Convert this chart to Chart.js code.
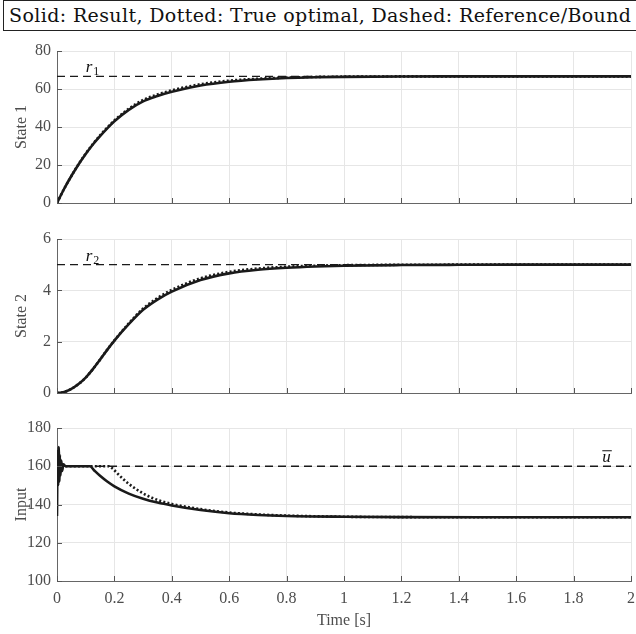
<!DOCTYPE html>
<html lang="en">
<head>
    <meta charset="UTF-8">
    <title>Result vs true optimal</title>
    <script src="https://cdn.jsdelivr.net/npm/chart.js"></script>
    <style>
        body { margin: 0; background: #fff; width: 636px; height: 634px; position: relative; overflow: hidden; }
        #legendBox {
            position: absolute; left: 3px; top: 0; width: 640px; height: 31px;
            border: 1px solid #222; box-sizing: border-box;
            font-family: "DejaVu Serif", serif; font-size: 19px; color: #111;
            line-height: 29px; padding-left: 5px; white-space: nowrap;
        }
        canvas { position: absolute; left: 0; }
    </style>
</head>
<body>
    <div id="legendBox"><span id="legendText">Solid: Result, Dotted: True optimal, Dashed: Reference/Bound</span></div>
    <canvas id="c1" width="636" height="175" style="top:40px"></canvas>
    <canvas id="c2" width="636" height="180" style="top:225px"></canvas>
    <canvas id="c3" width="636" height="219" style="top:415px"></canvas>

    <script>
        // time grid used for both states
        const tState = [0, 0.025, 0.05, 0.075, 0.1, 0.125, 0.15, 0.175, 0.2, 0.25, 0.3, 0.35, 0.4, 0.5, 0.6, 0.7, 0.8, 0.9, 1.0, 1.2, 1.4, 1.6, 1.8, 2.0];
        const state1Result  = [0, 7.5, 14.2, 20.3, 25.8, 30.8, 35.2, 39.3, 43.0, 49.0, 53.5, 56.3, 58.5, 61.8, 63.8, 65.0, 65.8, 66.2, 66.4, 66.6, 66.65, 66.67, 66.67, 66.67];
        const state1Optimal = [0, 7.5, 14.2, 20.4, 26.0, 31.0, 35.6, 39.7, 43.5, 49.6, 54.2, 57.1, 59.3, 62.5, 64.4, 65.4, 66.0, 66.35, 66.5, 66.63, 66.67, 66.67, 66.67, 66.67];
        const state2Result  = [0, 0.04, 0.16, 0.35, 0.6, 0.93, 1.3, 1.68, 2.04, 2.68, 3.24, 3.64, 3.95, 4.40, 4.66, 4.80, 4.88, 4.93, 4.96, 4.985, 4.995, 5.0, 5.0, 5.0];
        const state2Optimal = [0, 0.04, 0.16, 0.35, 0.6, 0.93, 1.3, 1.69, 2.05, 2.71, 3.29, 3.70, 4.02, 4.47, 4.72, 4.85, 4.92, 4.96, 4.98, 4.995, 5.0, 5.0, 5.0, 5.0];

        // input: result (with initial chatter) and true optimal
        const tInputResult = [0, 0.002, 0.004, 0.006, 0.008, 0.010, 0.012, 0.015, 0.018, 0.022, 0.03, 0.115, 0.13, 0.15, 0.175, 0.2, 0.25, 0.3, 0.35, 0.4, 0.5, 0.6, 0.7, 0.8, 1.0, 1.2, 1.5, 2.0];
        const inputResult  = [134, 168, 150, 170, 152, 166, 155, 163, 157.5, 161, 160, 160, 157.8, 155.0, 152.0, 149.5, 145.7, 143.0, 141.0, 139.5, 137.1, 135.4, 134.5, 134.0, 133.6, 133.4, 133.3, 133.3];
        const tInputOptimal = [0, 0.18, 0.195, 0.21, 0.23, 0.25, 0.3, 0.35, 0.4, 0.5, 0.6, 0.7, 0.8, 1.0, 1.2, 1.5, 2.0];
        const inputOptimal  = [160, 160, 158.6, 156.3, 153.4, 150.8, 145.8, 142.4, 140.3, 137.6, 135.8, 134.8, 134.2, 133.6, 133.4, 133.3, 133.3];

        // references / bound
        const r1 = 66.67, r2 = 5, uMax = 160;
        const xTicks = [0, 0.2, 0.4, 0.6, 0.8, 1, 1.2, 1.4, 1.6, 1.8, 2];

        const pts = (xs, ys) => xs.map((x, i) => ({ x: x, y: ys[i] }));
        const flat = v => [{ x: 0, y: v }, { x: 2, y: v }];

        // stretch the header text to the width used in the original
        const lt = document.getElementById('legendText');
        const extra = 622 - lt.getBoundingClientRect().width;
        lt.style.letterSpacing = (extra / (lt.textContent.length - 1)) + 'px';

        const TICK_FONT = { family: 'Liberation Serif', size: 16 };
        const TITLE_FONT = { family: 'Liberation Serif', size: 16 };
        const GRAY = '#4d4d4d';

        // matlab style ticks pointing into the axes + text annotations
        const innerTicks = {
            id: 'innerTicks',
            afterDraw(chart) {
                const { ctx, chartArea: a, scales: { x, y } } = chart;
                ctx.save();
                ctx.strokeStyle = '#555';
                ctx.lineWidth = 1;
                ctx.beginPath();
                x.ticks.forEach(t => {
                    const px = Math.round(x.getPixelForValue(t.value)) + 0.5;
                    ctx.moveTo(px, a.bottom); ctx.lineTo(px, a.bottom - 5);
                });
                y.ticks.forEach(t => {
                    const py = Math.round(y.getPixelForValue(t.value)) + 0.5;
                    ctx.moveTo(a.left, py); ctx.lineTo(a.left + 5, py);
                });
                ctx.stroke();

                const note = chart.options.plugins.innerTicks;
                if (note && note.text) {
                    const px = x.getPixelForValue(note.x);
                    const py = y.getPixelForValue(note.y) - 4;
                    ctx.fillStyle = '#111';
                    ctx.font = 'italic 17px "Liberation Serif"';
                    ctx.textBaseline = 'alphabetic';
                    ctx.fillText(note.text, px, py);
                    const w = ctx.measureText(note.text).width;
                    if (note.sub) {
                        ctx.font = '12px "Liberation Serif"';
                        ctx.fillText(note.sub, px + w + 1, py + 3);
                    }
                    if (note.bar) {
                        ctx.beginPath();
                        ctx.strokeStyle = '#111';
                        ctx.lineWidth = 1;
                        ctx.moveTo(px, py - 11.5); ctx.lineTo(px + w + 1, py - 11.5);
                        ctx.stroke();
                    }
                }
                ctx.restore();
            }
        };

        function makeChart(id, opts) {
            const datasets = [
                { data: opts.result, borderColor: '#1a1a1a', borderWidth: 2.6, cubicInterpolationMode: 'monotone' },
                { data: opts.optimal, borderColor: '#1a1a1a', borderWidth: 2.6, borderDash: [2, 2.2], cubicInterpolationMode: 'monotone' },
                { data: opts.ref, borderColor: '#1a1a1a', borderWidth: 1.4, borderDash: [8, 5] }
            ];
            return new Chart(document.getElementById(id), {
                type: 'line',
                data: { datasets: datasets },
                plugins: [innerTicks],
                options: {
                    responsive: false,
                    animation: false,
                    elements: { point: { radius: 0 } },
                    layout: { padding: { top: opts.padTop, right: 5, left: 0, bottom: 0 } },
                    plugins: {
                        legend: { display: false },
                        tooltip: { enabled: false },
                        innerTicks: opts.note
                    },
                    scales: {
                        x: {
                            type: 'linear', min: 0, max: 2,
                            afterBuildTicks: s => { s.ticks = xTicks.map(v => ({ value: v })); },
                            afterFit: s => { s.height = opts.xHeight; s.paddingLeft = 0; s.paddingRight = 0; },
                            grid: { color: '#e6e6e6', drawTicks: false },
                            border: { color: '#666', width: 1 },
                            ticks: {
                                display: opts.showX, color: GRAY, font: TICK_FONT, padding: 8,
                                maxRotation: 0, callback: v => String(+v.toFixed(1))
                            },
                            title: {
                                display: opts.showX, text: 'Time [s]', color: GRAY,
                                font: TITLE_FONT, padding: { top: 0, bottom: 4 }
                            }
                        },
                        y: {
                            min: opts.yMin, max: opts.yMax,
                            ticks: { stepSize: opts.yStep, color: GRAY, font: TICK_FONT, padding: 6 },
                            afterFit: s => { s.width = 57; s.paddingTop = 0; s.paddingBottom = 0; },
                            grid: { color: '#e6e6e6', drawTicks: false },
                            border: { color: '#666', width: 1 },
                            title: {
                                display: true, text: opts.yTitle, color: GRAY,
                                font: TITLE_FONT, padding: { top: 12, bottom: 0 }
                            }
                        }
                    }
                }
            });
        }

        makeChart('c1', {
            result: pts(tState, state1Result), optimal: pts(tState, state1Optimal), ref: flat(r1),
            yMin: 0, yMax: 80, yStep: 20, yTitle: 'State 1', padTop: 11, xHeight: 12, showX: false,
            note: { text: 'r', sub: '1', x: 0.1, y: r1 }
        });
        makeChart('c2', {
            result: pts(tState, state2Result), optimal: pts(tState, state2Optimal), ref: flat(r2),
            yMin: 0, yMax: 6, yStep: 2, yTitle: 'State 2', padTop: 14, xHeight: 12, showX: false,
            note: { text: 'r', sub: '2', x: 0.1, y: r2 }
        });
        makeChart('c3', {
            result: pts(tInputResult, inputResult), optimal: pts(tInputOptimal, inputOptimal), ref: flat(uMax),
            yMin: 100, yMax: 180, yStep: 20, yTitle: 'Input', padTop: 13, xHeight: 53, showX: true,
            note: { text: 'u', bar: true, x: 1.9, y: uMax }
        });
    </script>
</body>
</html>
